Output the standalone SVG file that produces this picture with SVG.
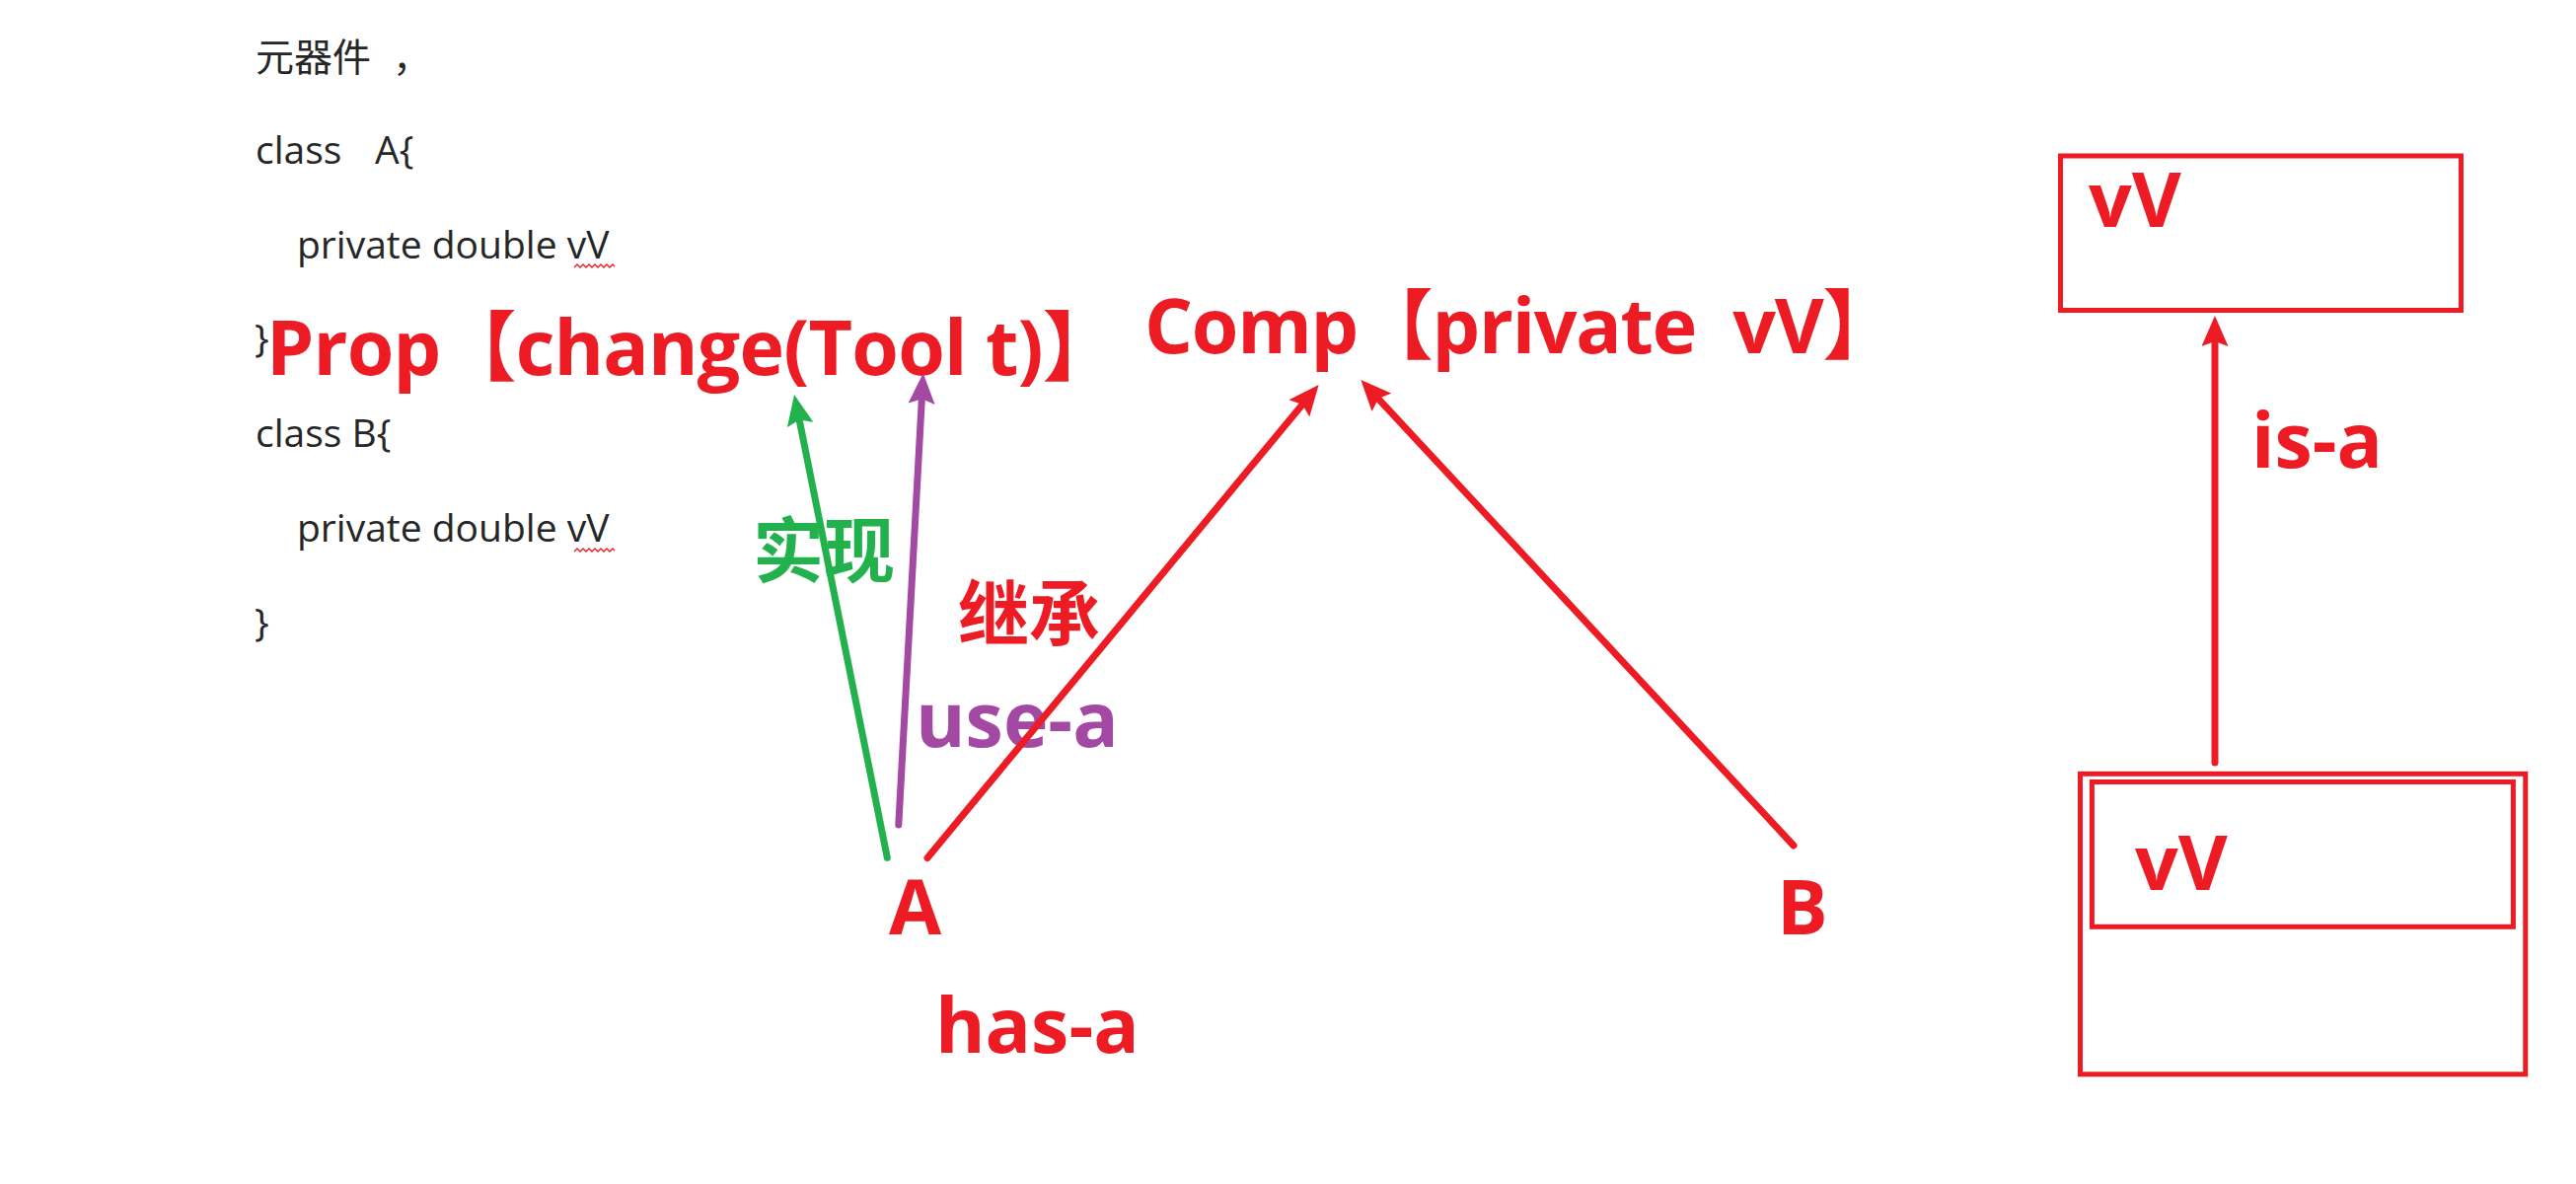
<svg xmlns="http://www.w3.org/2000/svg" width="2611" height="1200" viewBox="0 0 2611 1200">
<style>
.body{font-family:"Open Sans","Noto Sans CJK SC",sans-serif;font-size:39px;fill:#262626}
.big{font-family:"Open Sans","Noto Sans CJK SC",sans-serif;font-size:77px;font-weight:700}
.cjk{font-family:"Noto Sans CJK SC",sans-serif;font-size:72px;font-weight:700}
.red{fill:#ED1C24}
.green{fill:#22B14C}
.purple{fill:#A349A4}
.box{fill:none;stroke:#ED1C24;stroke-width:5}
.conn{fill:none;stroke-width:7;stroke-linecap:round}
.squig{fill:none;stroke:#ED1C24;stroke-width:1.4}
</style>
<defs>
<marker id="hRed" markerUnits="userSpaceOnUse" viewBox="0 0 31 27" markerWidth="31" markerHeight="27" refX="19" refY="13.5" orient="auto"><path d="M0,0 L31,13.5 L0,27 L5,13.5 Z" fill="#ED1C24"/></marker>
<marker id="hGreen" markerUnits="userSpaceOnUse" viewBox="0 0 31 27" markerWidth="31" markerHeight="27" refX="19" refY="13.5" orient="auto"><path d="M0,0 L31,13.5 L0,27 L5,13.5 Z" fill="#22B14C"/></marker>
<marker id="hPurple" markerUnits="userSpaceOnUse" viewBox="0 0 31 27" markerWidth="31" markerHeight="27" refX="19" refY="13.5" orient="auto"><path d="M0,0 L31,13.5 L0,27 L5,13.5 Z" fill="#A349A4"/></marker>
</defs>
<rect width="2611" height="1200" fill="#ffffff"/>

<g id="code">
<text class="body" x="259" y="72">元器件</text>
<text class="body" x="398" y="72">，</text>
<text class="body" x="259" y="166">class</text>
<text class="body" x="380" y="166">A{</text>
<text class="body" x="301" y="262">private double vV</text>
<text class="body" x="258" y="357">}</text>
<text class="body" x="259" y="453">class B{</text>
<text class="body" x="301" y="549">private double vV</text>
<text class="body" x="258" y="645">}</text>
<path class="squig" d="M582,271 l3,-3 l3,3 l3,-3 l3,3 l3,-3 l3,3 l3,-3 l3,3 l3,-3 l3,3 l3,-3 l3,3 l3,-3 l2,2"/>
<path class="squig" d="M582,559 l3,-3 l3,3 l3,-3 l3,3 l3,-3 l3,3 l3,-3 l3,3 l3,-3 l3,3 l3,-3 l3,3 l3,-3 l2,2"/>
</g>

<g id="node-prop"><text class="big red" x="270" y="380" letter-spacing="-0.8">Prop【change(Tool t)】</text></g>
<g id="node-comp"><text class="big red" x="1160" y="358" letter-spacing="-1.3" xml:space="preserve">Comp【private  vV】</text></g>
<g id="node-a"><text class="big red" x="901" y="947">A</text></g>
<g id="node-b"><text class="big red" x="1801" y="947">B</text></g>

<g id="labels">
<text class="cjk green" x="763" y="584">实现</text>
<text class="cjk red" x="971" y="648">继承</text>
<text class="big purple" x="928" y="757">use-a</text>
<text class="big red" x="948" y="1067">has-a</text>
<text class="big red" x="2282" y="474">is-a</text>
</g>

<g id="node-parent">
<rect class="box" x="2088.5" y="158" width="406" height="156.5"/>
<text class="big red" x="2117" y="230">vV</text>
</g>
<g id="node-child">
<rect class="box" x="2108.5" y="784.3" width="451.3" height="304.5"/>
<rect class="box" x="2120.4" y="792.5" width="427" height="146.8"/>
<text class="big red" x="2164" y="902">vV</text>
</g>

<g id="connectors">
<line class="conn" stroke="#22B14C" x1="899.3" y1="869.3" x2="807.4" y2="411.8" marker-end="url(#hGreen)"/>
<line class="conn" stroke="#A349A4" x1="910.8" y1="836" x2="935.1" y2="390.3" marker-end="url(#hPurple)"/>
<line class="conn" stroke="#ED1C24" x1="940" y1="869.5" x2="1329" y2="399.2" marker-end="url(#hRed)"/>
<line class="conn" stroke="#ED1C24" x1="1818" y1="857" x2="1387.5" y2="393.8" marker-end="url(#hRed)"/>
<line class="conn" stroke="#ED1C24" x1="2245" y1="773" x2="2245" y2="332" marker-end="url(#hRed)"/>
</g>
</svg>
